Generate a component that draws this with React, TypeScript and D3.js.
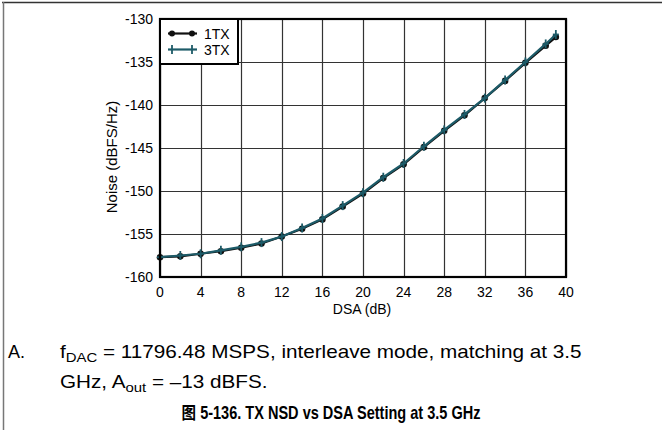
import { useEffect, useRef } from 'react';
import * as d3 from 'd3';

const DSA = [0, 2, 4, 6, 8, 10, 12, 14, 16, 18, 20, 22, 24, 26, 28, 30, 32, 34, 36, 38, 39];
const NOISE_1TX = [-157.7, -157.6, -157.3, -157.0, -156.6, -156.1, -155.3, -154.4, -153.3, -151.8, -150.3, -148.5, -146.9, -144.9, -143.0, -141.2, -139.2, -137.2, -135.1, -133.1, -132.1];
const NOISE_3TX = [-157.7, -157.5, -157.3, -156.9, -156.5, -156.0, -155.3, -154.3, -153.2, -151.7, -150.2, -148.4, -146.8, -144.8, -142.9, -141.1, -139.2, -137.1, -135.0, -132.9, -131.8];
const X_TICKS = [0, 4, 8, 12, 16, 20, 24, 28, 32, 36, 40];
const Y_TICKS = [-160, -155, -150, -145, -140, -135, -130];

const SERIES = [
  { name: '1TX', values: NOISE_1TX, color: '#111', marker: 'dot' },
  { name: '3TX', values: NOISE_3TX, color: '#1d5b68', marker: 'plus' },
];

const FONT = '"Liberation Sans", Arial, sans-serif';

export default function App() {
  const svgRef = useRef<SVGSVGElement>(null);

  useEffect(() => {
    if (!svgRef.current) return;
    const svg = d3.select(svgRef.current);
    svg.selectAll('*').remove();

    const L = 160, R = 566, T = 19, B = 277;
    const x = d3.scaleLinear().domain([0, 40]).range([L, R]);
    const y = d3.scaleLinear().domain([-160, -130]).range([B, T]);

    // page frame (top + left)
    svg.append('line').attr('x1', 2).attr('x2', 662).attr('y1', 2.5).attr('y2', 2.5).attr('stroke', '#333').attr('stroke-width', 1.5);
    svg.append('line').attr('x1', 3.5).attr('x2', 3.5).attr('y1', 2).attr('y2', 430).attr('stroke', '#777').attr('stroke-width', 1.5);

    const g = svg.append('g');

    // grid
    X_TICKS.forEach((t) => {
      g.append('line').attr('x1', Math.round(x(t)) + 0.5).attr('x2', Math.round(x(t)) + 0.5)
        .attr('y1', T).attr('y2', B).attr('stroke', '#333').attr('stroke-width', 1.2);
    });
    Y_TICKS.forEach((t) => {
      g.append('line').attr('y1', Math.round(y(t)) + 0.5).attr('y2', Math.round(y(t)) + 0.5)
        .attr('x1', L).attr('x2', R).attr('stroke', '#333').attr('stroke-width', 1.2);
    });

    // lines and markers
    SERIES.forEach((s) => {
      const pts = DSA.map((d, i) => [x(d), y(s.values[i])] as [number, number]);
      g.append('path').attr('d', d3.line()(pts)).attr('fill', 'none')
        .attr('stroke', s.color).attr('stroke-width', 2.2);
      pts.forEach(([px, py]) => {
        if (s.marker === 'dot') {
          g.append('circle').attr('cx', px).attr('cy', py).attr('r', 3.3).attr('fill', s.color);
        } else {
          g.append('line').attr('x1', px).attr('x2', px).attr('y1', py - 4.5).attr('y2', py + 4.5)
            .attr('stroke', s.color).attr('stroke-width', 1.8);
          g.append('line').attr('x1', px - 3).attr('x2', px + 3).attr('y1', py).attr('y2', py)
            .attr('stroke', s.color).attr('stroke-width', 1.8);
        }
      });
    });

    // plot frame
    g.append('rect').attr('x', L).attr('y', T).attr('width', R - L).attr('height', B - T)
      .attr('fill', 'none').attr('stroke', '#000').attr('stroke-width', 2.2);

    // legend
    const lg = g.append('g');
    lg.append('rect').attr('x', L).attr('y', T).attr('width', 78).attr('height', 45)
      .attr('fill', '#fff').attr('stroke', '#000').attr('stroke-width', 2);
    SERIES.forEach((s, i) => {
      const ly = 33.5 + i * 16;
      lg.append('line').attr('x1', 168).attr('x2', 197).attr('y1', ly).attr('y2', ly)
        .attr('stroke', s.color).attr('stroke-width', 2.2);
      [172, 192].forEach((mx) => {
        if (s.marker === 'dot') {
          lg.append('circle').attr('cx', mx).attr('cy', ly).attr('r', 3).attr('fill', s.color);
        } else {
          lg.append('line').attr('x1', mx).attr('x2', mx).attr('y1', ly - 4.5).attr('y2', ly + 4.5)
            .attr('stroke', s.color).attr('stroke-width', 1.8);
        }
      });
      lg.append('text').attr('x', 204).attr('y', ly + 5).attr('font-size', 14)
        .attr('font-family', FONT).attr('fill', '#000').text(s.name);
    });

    // tick labels
    Y_TICKS.forEach((t) => {
      svg.append('text').attr('x', 153).attr('y', y(t) + 5).attr('text-anchor', 'end')
        .attr('font-size', 14).attr('font-family', FONT).attr('fill', '#000').text(t);
    });
    X_TICKS.forEach((t) => {
      svg.append('text').attr('x', x(t)).attr('y', 297).attr('text-anchor', 'middle')
        .attr('font-size', 14).attr('font-family', FONT).attr('fill', '#000').text(t);
    });

    svg.append('text').attr('x', 362).attr('y', 314).attr('text-anchor', 'middle')
      .attr('font-size', 14).attr('font-family', FONT).text('DSA (dB)');
    svg.append('text').attr('transform', 'translate(117,157) rotate(-90)').attr('text-anchor', 'middle')
      .attr('font-size', 15).attr('font-family', FONT).text('Noise (dBFS/Hz)');

    // footnote
    svg.append('text').attr('x', 8).attr('y', 358).attr('font-size', 18).attr('font-family', FONT).text('A.');
    const f1 = svg.append('g').attr('transform', 'translate(60,358) scale(1.15,1)')
      .append('text').attr('font-size', 18).attr('font-family', FONT).attr('fill', '#000');
    f1.append('tspan').text('f');
    f1.append('tspan').attr('dy', 4).attr('font-size', 13).text('DAC');
    f1.append('tspan').attr('dy', -4).text(' = 11796.48 MSPS, interleave mode, matching at 3.5');
    const f2 = svg.append('g').attr('transform', 'translate(60,388) scale(1.15,1)')
      .append('text').attr('font-size', 18).attr('font-family', FONT).attr('fill', '#000');
    f2.append('tspan').text('GHz, A');
    f2.append('tspan').attr('dy', 4).attr('font-size', 13).text('out');
    f2.append('tspan').attr('dy', -4).text(' = \u201313 dBFS.');

    svg.append('g').attr('transform', 'translate(331,419) scale(0.83,1)')
      .append('text').attr('text-anchor', 'middle')
      .attr('font-size', 17.5).attr('font-weight', 'bold').attr('font-family', '"Liberation Sans", "Noto Sans CJK SC", sans-serif')
      .text('\u56fe 5-136. TX NSD vs DSA Setting at 3.5 GHz');
  }, []);

  return (
    <svg
      ref={svgRef}
      width={662}
      height={430}
      viewBox="0 0 662 430"
      style={{ position: 'absolute', left: 0, top: 0, background: '#fff' }}
    />
  );
}
